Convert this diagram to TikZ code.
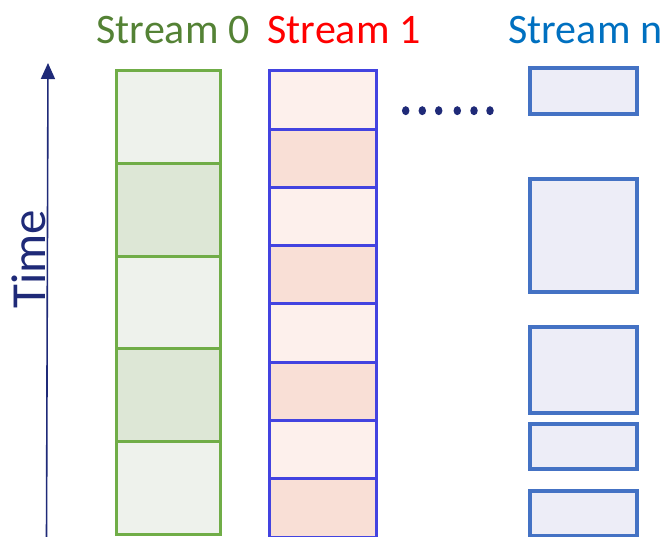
\documentclass[tikz,border=0pt]{standalone}
\usepackage{fontspec}
\setmainfont{Carlito}
\usetikzlibrary{arrows.meta,shapes.geometric}
\definecolor{navy}{HTML}{1F2A78}
\definecolor{grline}{HTML}{70AD47}
\definecolor{grlight}{HTML}{EEF2EC}
\definecolor{grdark}{HTML}{DDE7D6}
\definecolor{rdline}{HTML}{4343E0}
\definecolor{rdlight}{HTML}{FDF0EC}
\definecolor{rddark}{HTML}{F9DFD6}
\definecolor{bnline}{HTML}{4472C4}
\definecolor{bnfill}{HTML}{EDEDF7}
\definecolor{txgreen}{HTML}{548235}
\definecolor{txred}{HTML}{FF0000}
\definecolor{txblue}{HTML}{0070C0}
\tikzset{
  cell/.style={rectangle, inner sep=0pt, outer sep=0pt, anchor=north west},
  gcellA/.style={cell, draw=grline, fill=grlight, line width=3pt, minimum width=104pt, minimum height=92.6pt},
  gcellB/.style={gcellA, fill=grdark},
  rcellA/.style={cell, draw=rdline, fill=rdlight, line width=3pt, minimum width=107pt, minimum height=58.25pt},
  rcellB/.style={rcellA, fill=rddark},
  ncell/.style={cell, draw=bnline, fill=bnfill, line width=3.2pt, minimum width=107pt},
  title/.style={font=\fontsize{42}{46}\selectfont, anchor=base},
  dot/.style={ellipse, fill=navy, inner sep=0pt, minimum width=7.5pt, minimum height=9pt}
}
\begin{document}
\begin{tikzpicture}[x=1pt,y=-1pt]
\useasboundingbox (0,0) rectangle (664,537);

% stream titles
\node[title, text=txgreen] (t0) at (173,43.5) {Stream 0};
\node[title, text=txred] (t1) at (344,43.5) {Stream 1};
\node[title, text=txblue, anchor=base west] (tn) at (505,43.5) {Stream n};

% time axis
\coordinate (tbot) at (46.5,540);
\coordinate (ttop) at (48,63);
\draw[navy, line width=1.6pt, -{Triangle[width=14pt,length=16pt]}] (tbot) -- (ttop);
\node[text=navy, font=\fontsize{49}{52}\selectfont, rotate=90, anchor=base] (time) at (45,259) {Time};

% stream 0: five long slots
\node[gcellA] (g1) at (116,71.0) {};
\node[gcellB] (g2) at (116,163.6) {};
\node[gcellA] (g3) at (116,256.2) {};
\node[gcellB] (g4) at (116,348.8) {};
\node[gcellA] (g5) at (116,441.4) {};

% stream 1: eight short slots
\node[rcellA] (r1) at (269,71.0) {};
\node[rcellB] (r2) at (269,129.25) {};
\node[rcellA] (r3) at (269,187.5) {};
\node[rcellB] (r4) at (269,245.75) {};
\node[rcellA] (r5) at (269,304.0) {};
\node[rcellB] (r6) at (269,362.25) {};
\node[rcellA] (r7) at (269,420.5) {};
\node[rcellB] (r8) at (269,478.75) {};

% dots between streams
\foreach \x [count=\i] in {405.7,422.3,438.7,457.3,474,490} {
  \node[dot] (d\i) at (\x,110.7) {};
}

% stream n: irregular slots
\node[ncell, minimum height=46pt] (n1) at (530,68) {};
\node[ncell, minimum height=113pt] (n2) at (530,179) {};
\node[ncell, minimum height=86pt] (n3) at (530,327) {};
\node[ncell, minimum height=45pt] (n4) at (530,424) {};
\node[ncell, minimum height=45pt] (n5) at (530,491) {};
\end{tikzpicture}
\end{document}
